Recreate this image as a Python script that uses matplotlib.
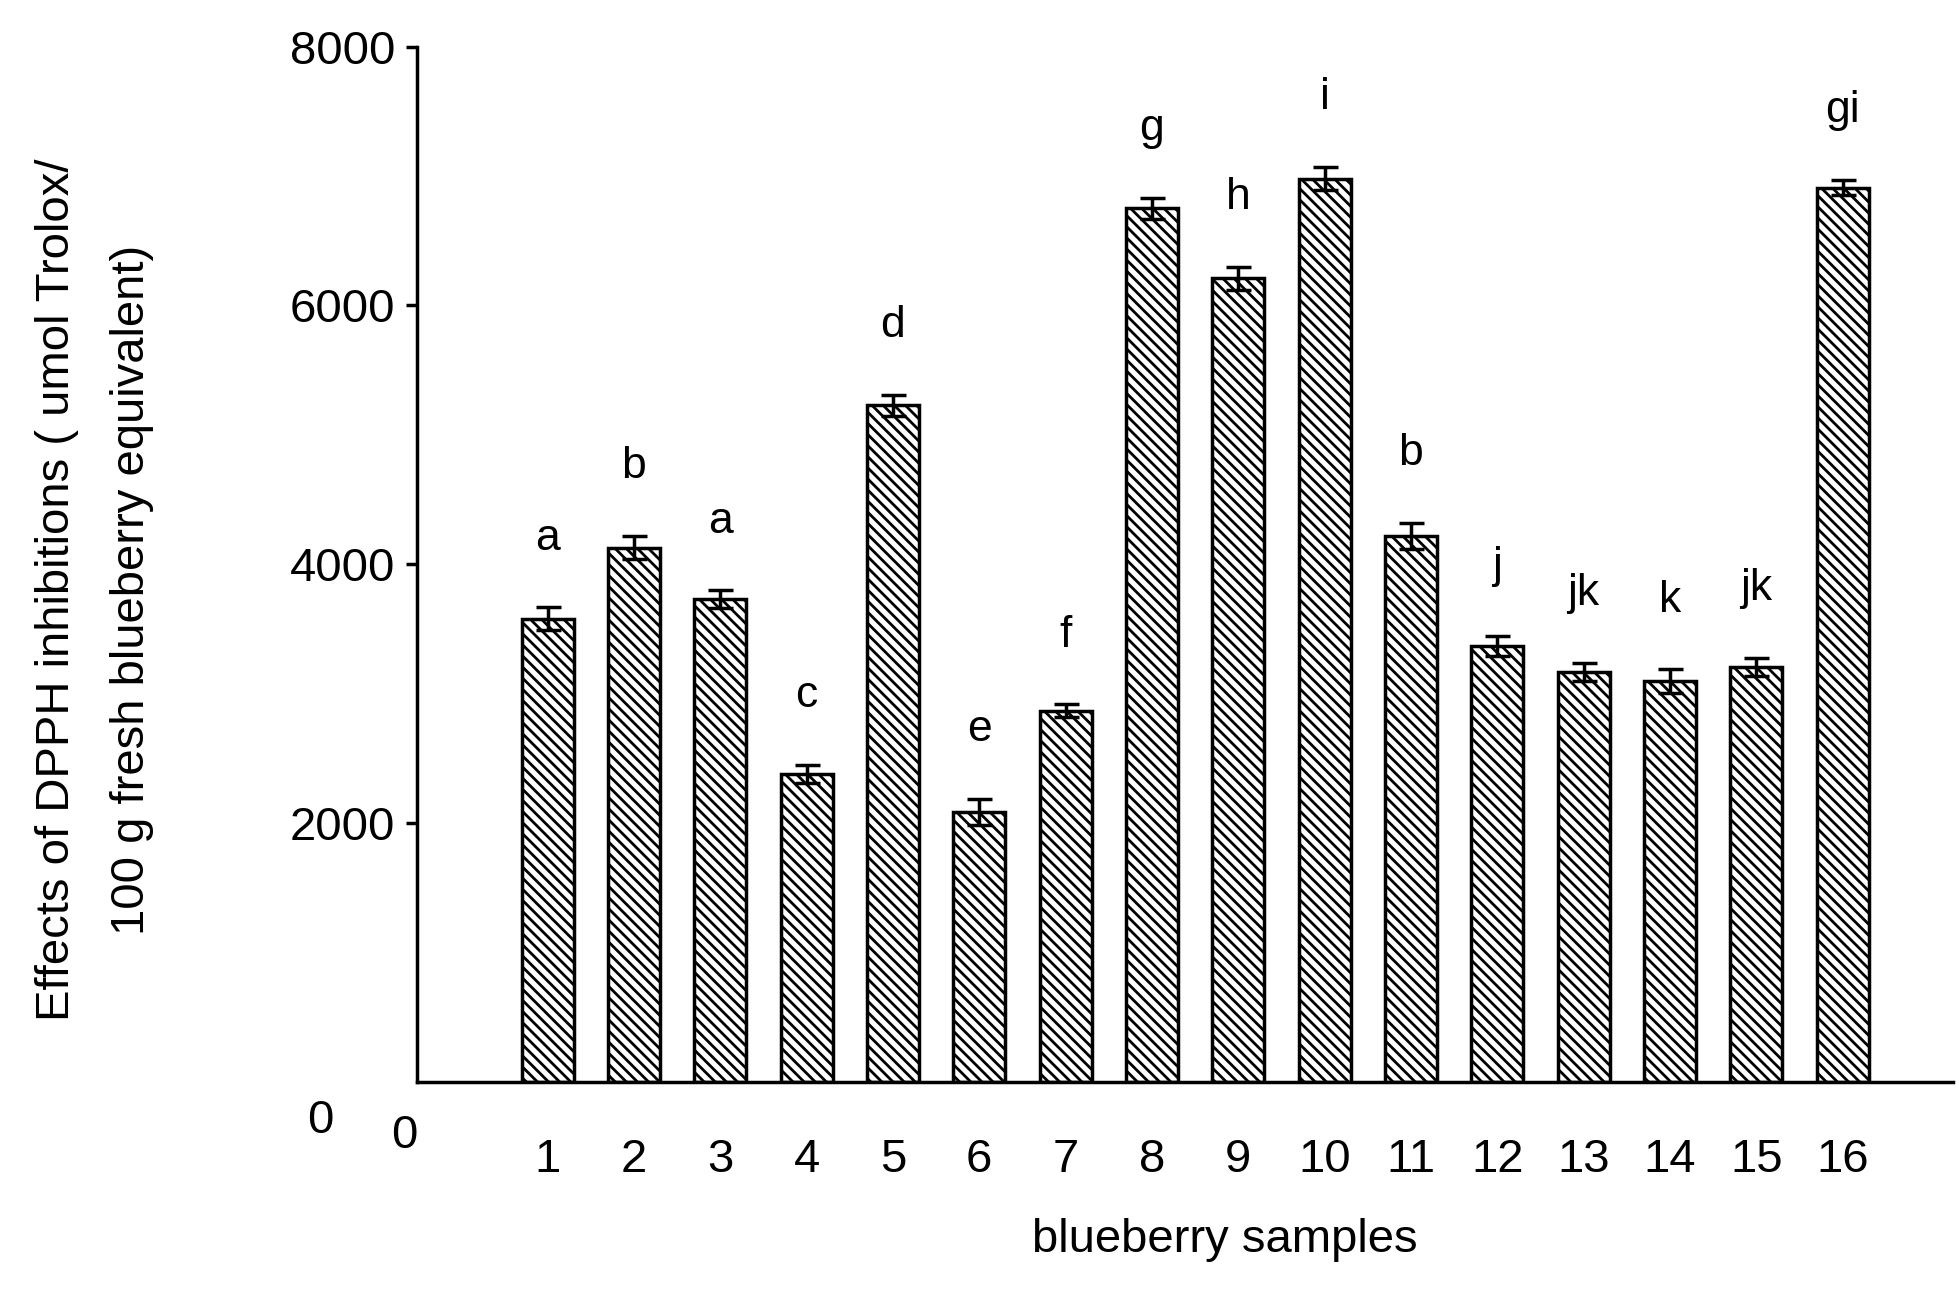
import matplotlib
matplotlib.use("Agg")
import matplotlib.pyplot as plt

samples = [str(i) for i in range(1, 17)]
values = [3580, 4130, 3730, 2380, 5230, 2090, 2870, 6750, 6210, 6980, 4220, 3370, 3170, 3100, 3210, 6910]
errors = [90, 90, 70, 70, 80, 100, 50, 80, 90, 90, 100, 80, 70, 90, 70, 60]
letters = ["a", "b", "a", "c", "d", "e", "f", "g", "h", "i", "b", "j", "jk", "k", "jk", "gi"]

plt.rcParams['font.family'] = ['Liberation Sans', 'DejaVu Sans']
plt.rcParams['hatch.linewidth'] = 2.0
fig = plt.figure(figsize=(19.59, 12.93), dpi=100)
ax = fig.add_axes([0.213, 0.163, 0.784, 0.801])
x = list(range(1, 17))
ax.bar(x, values, width=0.6, color='white', edgecolor='black', hatch='\\\\\\', linewidth=2.5, zorder=2)
ax.errorbar(x, values, yerr=errors, fmt='none', ecolor='black', elinewidth=2.5, capsize=9, capthick=2.5, zorder=3)
for xi, v, e, l in zip(x, values, errors, letters):
    ax.annotate(l, (xi, v + e), xytext=(0, 35), textcoords='offset points', ha='center', va='bottom', fontsize=32)
ax.set_xlim(-0.51, 17.28)
ax.set_ylim(0, 8000)
ax.set_yticks([2000, 4000, 6000, 8000])
ax.set_xticks(x)
ax.set_xticklabels(samples)
ax.tick_params(axis='x', length=0, pad=40, labelsize=34)
ax.tick_params(axis='y', length=8, width=2.5, labelsize=34, pad=8)
for s in ['top', 'right']:
    ax.spines[s].set_visible(False)
for s in ['left', 'bottom']:
    ax.spines[s].set_linewidth(2.5)
fig.text(255/1560, 1 - 893/1030, "0", fontsize=34, ha='center', va='center')
fig.text(322/1560, 1 - 905/1030, "0", fontsize=34, ha='center', va='center')
fig.text(45/1560, 1 - 470/1030, "Effects of DPPH inhibitions ( umol Trolox/", fontsize=34, rotation=90, ha='center', va='center')
fig.text(105/1560, 1 - 470/1030, "100 g fresh blueberry equivalent)", fontsize=34, rotation=90, ha='center', va='center')
fig.text(975/1560, 1 - 988/1030, "blueberry samples", fontsize=34, ha='center', va='center')
fig.savefig("out.png", dpi=100)
